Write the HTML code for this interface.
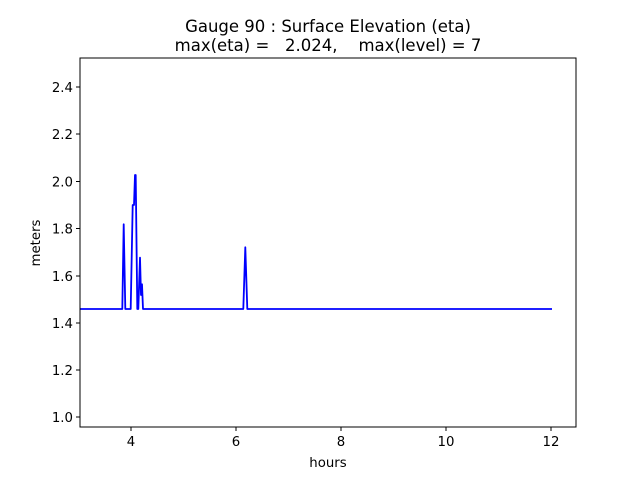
<!DOCTYPE html>
<html><head><style>body{margin:0;background:#fff}</style></head><body>
<svg width="640" height="480" xmlns="http://www.w3.org/2000/svg" font-family="DejaVu Sans, sans-serif">
<rect width="640" height="480" fill="#fff"/>
<polyline fill="none" stroke="#0000ff" stroke-width="1.8" stroke-linejoin="round" points="80,309 122.3,309 123.7,224.3 125.3,309 130.7,309 132.7,205 134,205 135,175 135.7,175 137.3,309 138.3,309 140,257.7 141,295 142,284.3 143,309 243.3,309 245.3,247.3 247.3,309 552,309"/>
<rect x="80" y="58" width="496" height="369" fill="none" stroke="#000" stroke-width="1"/>
<g stroke="#000" stroke-width="1">
<line x1="131" y1="427" x2="131" y2="431"/><line x1="236" y1="427" x2="236" y2="431"/><line x1="341" y1="427" x2="341" y2="431"/><line x1="446" y1="427" x2="446" y2="431"/><line x1="551" y1="427" x2="551" y2="431"/>
<line x1="76" y1="417" x2="80" y2="417"/><line x1="76" y1="370" x2="80" y2="370"/><line x1="76" y1="323" x2="80" y2="323"/><line x1="76" y1="276" x2="80" y2="276"/><line x1="76" y1="228.5" x2="80" y2="228.5"/><line x1="76" y1="181.5" x2="80" y2="181.5"/><line x1="76" y1="134" x2="80" y2="134"/><line x1="76" y1="87" x2="80" y2="87"/>
</g>
<g font-size="13.3" text-anchor="middle" fill="#000">
<text x="131" y="446">4</text><text x="236" y="446">6</text><text x="341" y="446">8</text><text x="446" y="446">10</text><text x="551" y="446">12</text>
<text x="328" y="467">hours</text>
</g>
<g font-size="16.5" text-anchor="middle" fill="#000">
<text x="328" y="32">Gauge 90 : Surface Elevation (eta)</text>
<text x="328" y="51" xml:space="preserve">max(eta) =   2.024,    max(level) = 7</text>
</g>
<g font-size="13.3" text-anchor="end" fill="#000">
<text x="73" y="422">1.0</text><text x="73" y="375">1.2</text><text x="73" y="328">1.4</text><text x="73" y="281">1.6</text><text x="73" y="233.5">1.8</text><text x="73" y="186.5">2.0</text><text x="73" y="139">2.2</text><text x="73" y="92">2.4</text>
</g>
<text x="40" y="243" font-size="13.3" text-anchor="middle" transform="rotate(-90 40 243)">meters</text>
</svg>
</body></html>
